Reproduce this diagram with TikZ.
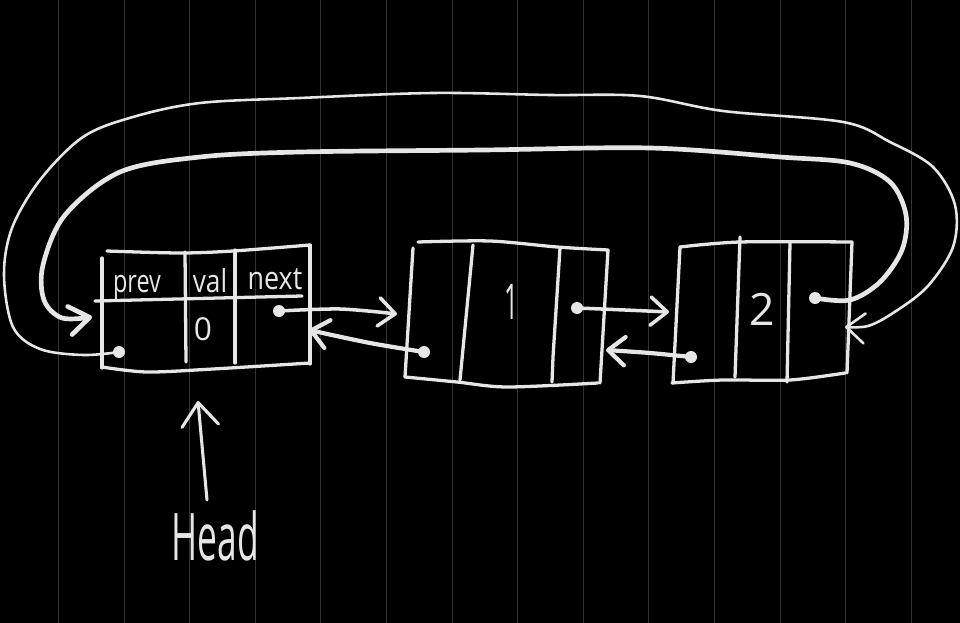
\documentclass[tikz,border=0pt]{standalone}
\usepackage{fontspec}
\setmainfont{Open Sans}
\usetikzlibrary{arrows.meta}
\definecolor{ink}{RGB}{230,230,230}
\definecolor{gridc}{RGB}{50,50,50}
\begin{document}
\begin{tikzpicture}[x=0.03cm,y=-0.03cm,
  inkline/.style={draw=ink, line cap=round, line join=round},
  boxline/.style={inkline, line width=2.8pt},
  gridline/.style={draw=gridc, line width=0.8pt},
  dot/.style={circle, fill=ink, inner sep=0pt, minimum size=0.36cm},
  barb/.style={-{Straight Barb[length=0.5cm,width=0.85cm,round]}},
  ptr/.style={inkline, line width=3pt, barb},
  lbl/.style={text=ink, inner sep=0pt, anchor=base},
]
% background and faint grid
\fill[black] (0,0) rectangle (960,623);
\useasboundingbox (0,0) rectangle (960,623);
\foreach \i in {0,...,13} \draw[gridline] ({58.4+65.6*\i},0) -- ++(0,623);

% ---------- node 0 ----------
\draw[boxline] plot[smooth,tension=0.5] coordinates {(107,251) (180,253) (233,251) (310,245)};
\draw[boxline] (102,258) -- (102,368);
\draw[boxline] (310,245) -- (310,364);
\draw[boxline] (95,301) -- (302,296);
\draw[boxline] (185,252) -- (186,362);
\draw[boxline] (235,250) -- (235,363);
\draw[boxline] plot[smooth,tension=0.5] coordinates {(102,367) (147,372) (213,369) (310,363)};
\node[lbl, font=\fontsize{27pt}{30pt}\selectfont, xscale=0.74] (lprev) at (137,292) {prev};
\node[lbl, font=\fontsize{27pt}{30pt}\selectfont, xscale=0.83] (lval) at (210,292) {val};
\node[lbl, font=\fontsize{27pt}{30pt}\selectfont, xscale=0.85] (lnext) at (275,289) {next};
\node[text=ink, inner sep=0pt, font=\fontsize{27pt}{30pt}\selectfont] (v0) at (203,329) {0};

% ---------- node 1 ----------
\draw[boxline] plot[smooth,tension=0.5] coordinates {(418,242) (490,241) (557,247) (608,250)};
\draw[boxline] (413,248) -- (405,377);
\draw[boxline] (608,250) -- (600,383);
\draw[boxline] plot[smooth,tension=0.5] coordinates {(405,377) (457,382) (507,387) (598,383)};
\draw[boxline] (473,245) -- (460,380);
\draw[boxline] (560,248) -- (553,357) -- (552,382);
\node[text=ink, inner sep=0pt, font=\fontsize{42pt}{46pt}\selectfont, xscale=0.5] (v1) at (512,302) {1};

% ---------- node 2 ----------
\draw[boxline] (680,247) -- (673,383);
\draw[boxline] plot[smooth,tension=0.5] coordinates {(680,247) (740,242) (852,242)};
\draw[boxline] (852,242) -- (847,373);
\draw[boxline] plot[smooth,tension=0.5] coordinates {(672,383) (723,380) (790,380) (845,373)};
\draw[boxline] (740,237) -- (735,377);
\draw[boxline] (790,243) -- (787,382);
\node[text=ink, inner sep=0pt, font=\fontsize{38pt}{42pt}\selectfont] (v2) at (762,309) {2};

% ---------- pointer dots and tip coordinates ----------
\coordinate (t01) at (397,314);
\coordinate (t10) at (309,330);
\coordinate (t12) at (669,312);
\coordinate (t21) at (606,350);
\coordinate (tinA) at (92,317);
\coordinate (toutB) at (845,327);
\coordinate (headtip) at (198,401);
\coordinate (headtail) at (207,500);

\node[dot] (n0next) at (279,311) {};
\node[dot] (n0prev) at (119,352) {};
\node[dot] (n1next) at (577,308) {};
\node[dot] (n1prev) at (424,352) {};
\node[dot] (n2next) at (815,298) {};
\node[dot] (n2prev) at (691,357) {};

% ---------- short pointers ----------
\draw[ptr] plot[smooth,tension=0.5] coordinates {(n0next) (340,309) (t01)};
\draw[ptr, line width=3.6pt] plot[smooth,tension=0.5] coordinates {(n1prev) (370,343) (t10)};
\draw[ptr] plot[smooth,tension=0.5] coordinates {(n1next) (625,310) (t12)};
\draw[ptr, line width=3.6pt] plot[smooth,tension=0.5] coordinates {(n2prev) (650,353) (t21)};

% ---------- big loops ----------
\draw[inkline, line width=4pt, -{Straight Barb[length=0.6cm,width=0.85cm,round]}]
  plot[smooth,tension=0.55] coordinates {(n2next) (850,300) (880,282) (902,250) (906,215) (890,182) (850,163) (780,157) (650,148) (483,150) (300,152) (200,157) (120,172) (65,215) (43,265) (44,300) (62,318) (tinA)};
\draw[inkline, line width=2.2pt, -{Straight Barb[length=0.55cm,width=0.9cm,round]}]
  plot[smooth,tension=0.55] coordinates {(n0prev) (83,355) (40,349) (13,327) (4,275) (12,228) (40,180) (83,137) (133,117) (200,103) (300,98) (433,93) (550,95) (640,96) (723,111) (843,122) (890,142) (933,167) (955,205) (953,247) (927,287) (893,313) (868,326) (toutB)};

% ---------- head ----------
\node[lbl, font=\fontsize{56pt}{60pt}\selectfont, xscale=0.54] (head) at (215,560) {Head};
\draw[inkline, line width=2.6pt, -{Straight Barb[length=0.7cm,width=1.1cm,round]}] (headtail) -- (headtip);
\end{tikzpicture}
\end{document}
